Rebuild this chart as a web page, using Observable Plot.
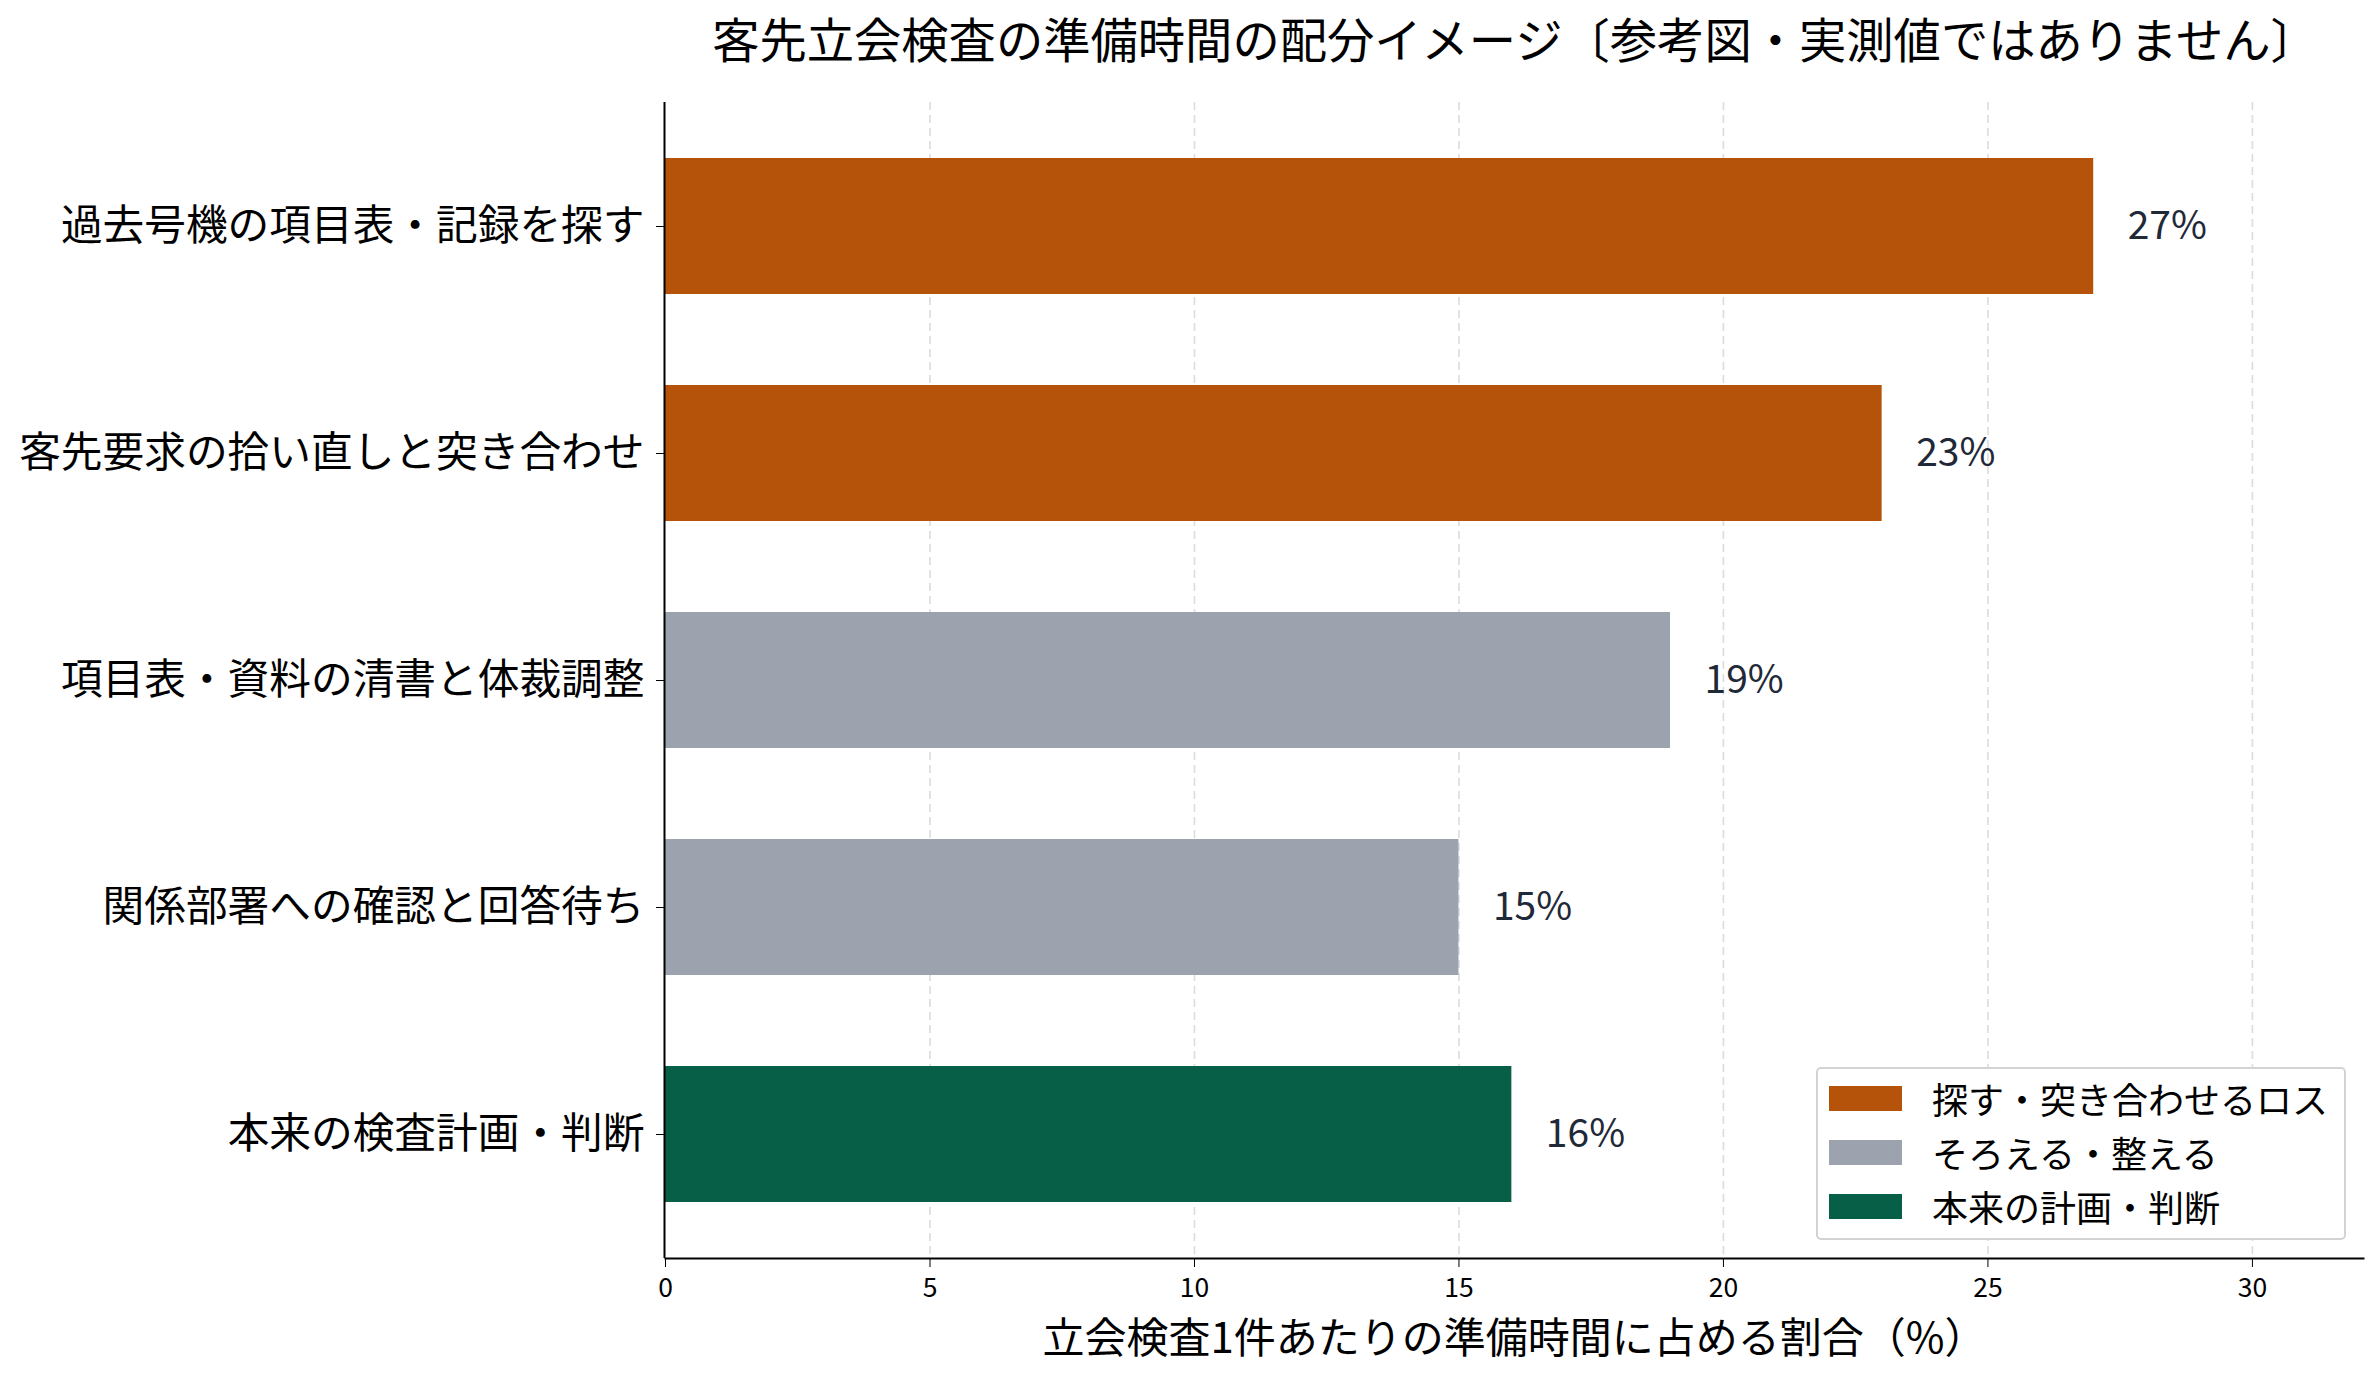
<!DOCTYPE html>
<html>
<head>
<meta charset="utf-8">
<script src="https://cdn.jsdelivr.net/npm/d3@7"></script>
<script src="https://cdn.jsdelivr.net/npm/@observablehq/plot@0.6"></script>
<style>
  html, body { margin: 0; padding: 0; background: #fff; }
  body { width: 2379px; height: 1380px; position: relative; overflow: hidden; font-family: "Noto Sans CJK JP", sans-serif; }
  #title { height: 80px; box-sizing: border-box; padding-left: 665px; padding-right: 14px; padding-bottom: 5px; display: flex; align-items: center; justify-content: center; font-size: 47.3px; color: #000; white-space: nowrap; }
  #legend { position: absolute; left: 1816px; top: 1067px; width: 530px; height: 173px; box-sizing: border-box; border: 2px solid #d3d3d3; border-radius: 5px; background: #fff; padding-top: 2px; }
  .row { height: 54px; display: flex; align-items: center; }
  .sw { width: 73px; height: 25px; margin-left: 11px; margin-right: 30px; }
  .lt { font-size: 36px; color: #000; white-space: nowrap; }
</style>
</head>
<body>
<div id="title"></div>
<div id="chart"></div>
<div id="legend"></div>
<script>
const titleText = "客先立会検査の準備時間の配分イメージ〔参考図・実測値ではありません〕";
const xLabel = "立会検査1件あたりの準備時間に占める割合（%）";
const categories = [
  "過去号機の項目表・記録を探す",
  "客先要求の拾い直しと突き合わせ",
  "項目表・資料の清書と体裁調整",
  "関係部署への確認と回答待ち",
  "本来の検査計画・判断"
];
const values = [27, 23, 19, 15, 16];
const groups = [
  "探す・突き合わせるロス",
  "探す・突き合わせるロス",
  "そろえる・整える",
  "そろえる・整える",
  "本来の計画・判断"
];
const groupNames = ["探す・突き合わせるロス", "そろえる・整える", "本来の計画・判断"];
const groupColors = ["#b45309", "#9ca3af", "#065f46"];
const xTicks = [0, 5, 10, 15, 20, 25, 30];
const gridTicks = [5, 10, 15, 20, 25, 30];

const data = categories.map((c, i) => ({category: c, value: values[i], group: groups[i]}));

document.getElementById("title").textContent = titleText;

const plot = Plot.plot({
  width: 2379,
  height: 1300,
  marginTop: 22,
  marginBottom: 122,
  marginLeft: 665,
  marginRight: 16,
  style: {fontFamily: "Noto Sans CJK JP", color: "#000", background: "transparent"},
  x: {domain: [0, 32.1]},
  y: {domain: categories, paddingInner: 0.4, paddingOuter: 0.24},
  color: {domain: groupNames, range: groupColors},
  marks: [
    Plot.ruleX(gridTicks, {stroke: "#dcdcdc", strokeWidth: 1.6, strokeDasharray: "8,5"}),
    Plot.barX(data, {x: "value", y: "category", fill: "group"}),
    Plot.text(data, {x: "value", y: "category", text: d => d.value + "%", textAnchor: "start", dx: 34, fontSize: 39, fill: "#1f2937"}),
    Plot.ruleX([0], {stroke: "#000", strokeWidth: 2, dx: -1}),
    Plot.frame({anchor: "bottom", stroke: "#000", strokeWidth: 2}),
    Plot.axisX({ticks: xTicks, tickSize: 9, tickPadding: 11, fontSize: 26.5, label: null, tickFormat: d => String(d)}),
    Plot.axisY({tickSize: 9, tickPadding: 12, fontSize: 41.7, label: null}),
    Plot.text([xLabel], {frameAnchor: "bottom", dy: 81, lineAnchor: "middle", fontSize: 42, fill: "#000"})
  ]
});
document.getElementById("chart").appendChild(plot);

const legend = document.getElementById("legend");
groupNames.forEach((g, i) => {
  const row = document.createElement("div");
  row.className = "row";
  const sw = document.createElement("div");
  sw.className = "sw";
  sw.style.background = groupColors[i];
  const lt = document.createElement("span");
  lt.className = "lt";
  lt.textContent = g;
  row.appendChild(sw);
  row.appendChild(lt);
  legend.appendChild(row);
});
</script>
</body>
</html>
